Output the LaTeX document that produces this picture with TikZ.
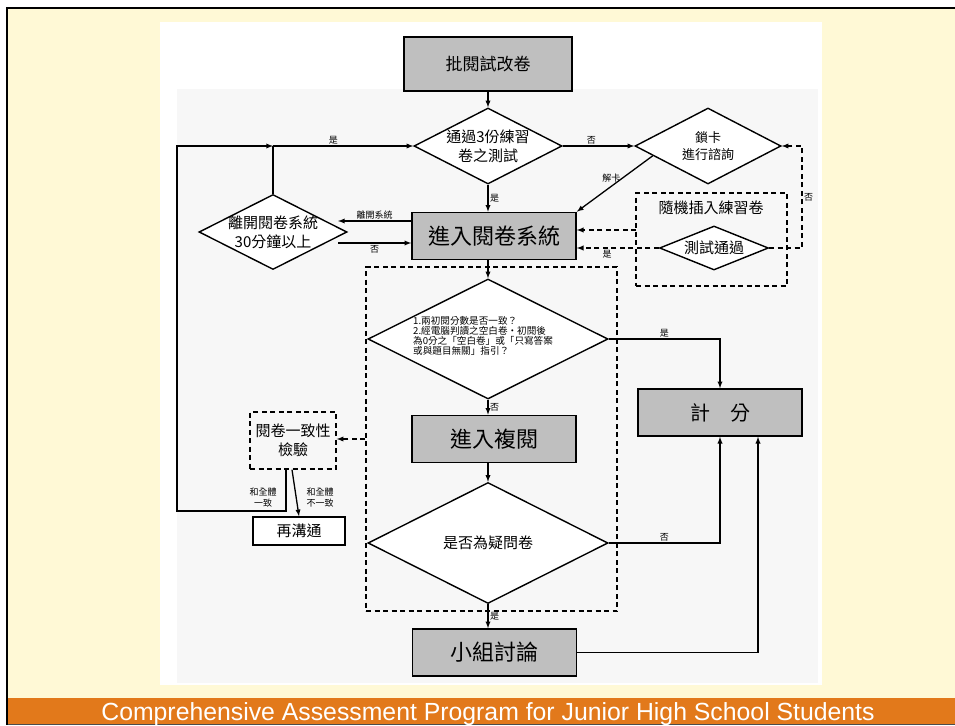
\documentclass[tikz,border=0pt]{standalone}
\usepackage{fontspec}
\setmainfont{Noto Sans CJK TC}
\newfontfamily\bannerfont{Liberation Sans}
\usetikzlibrary{shapes.geometric}
\definecolor{cream}{HTML}{FFF9D6}
\definecolor{bar}{HTML}{E2791B}
\definecolor{boxgray}{HTML}{BFBFBF}
\newcommand{\fsz}[2]{\fontsize{#1pt}{#2pt}\selectfont}

\begin{document}
\begin{tikzpicture}[x=1pt,y=-1pt,
    proc/.style={draw,line width=1.6pt,fill=boxgray,inner sep=0pt,minimum width=164pt,minimum height=47pt,font=\fsz{22}{26}},
    dec/.style={diamond,draw,line width=1.4pt,fill=white,inner sep=0pt},
    dbox/.style={draw,line width=1.4pt,dash pattern=on 5pt off 3.5pt,inner sep=0pt},
    flow/.style={line width=1.3pt,-latex},
    dflow/.style={flow,dash pattern=on 5pt off 3.5pt},
    tag/.style={font=\fsz{9}{11},inner sep=1.5pt,align=center},
    txt/.style={font=\fsz{15}{19},align=center,inner sep=0pt}]
  \useasboundingbox (0,0) rectangle (955,725);
  % slide
  \fill[white] (0,0) rectangle (955,725);
  \fill[cream] (7,8) rectangle (955,725);
  \fill[bar] (8,698) rectangle (955,724);
  \draw[line width=2pt] (955,8) -- (7,8) -- (7,725);
  \draw[line width=1pt,black!70] (8,724.5) -- (955,724.5);
  \node[font={\bannerfont\fsz{24.8}{26}},text=white,anchor=base,inner sep=0pt] (banner) at (488,720) {Comprehensive Assessment Program for Junior High School Students};
  \fill[white] (160,22) rectangle (822,685);
  \fill[black!3] (177,89) rectangle (818,683);
  %
  \node[proc,minimum width=168pt,minimum height=54pt,font=\fsz{17}{20}] (mark) at (488,64) {批閱試改卷};
  \node[dec,minimum width=148pt,minimum height=76pt] (pass3) at (488,146) {};
  \node[txt] (pass3txt) at (pass3) {通過3份練習\\卷之測試};
  \node[dec,minimum width=146pt,minimum height=76pt] (lock) at (708,146) {};
  \node[txt,font=\fsz{13}{17}] (locktxt) at (lock) {鎖卡\\進行諮詢};
  \node[proc] (sys) at (494,236) {進入閱卷系統};
  \node[dec,minimum width=148pt,minimum height=75pt] (leave) at (273,232) {};
  \node[txt] (leavetxt) at (leave) {離開閱卷系統\\30分鐘以上};
  \node[dbox,minimum width=151pt,minimum height=93pt] (rand) at (711.5,239.5) {};
  \node[txt] (randtxt) at (711,208) {隨機插入練習卷};
  \node[dec,minimum width=109pt,minimum height=44pt] (testok) at (714,248) {};
  \node[txt] (testoktxt) at (testok) {測試通過};
  %
  \node[dbox,minimum width=251pt,minimum height=344pt] (check) at (491.5,439) {};
  \node[dec,minimum width=240pt,minimum height=120pt] (dq) at (488,339) {};
  \node[txt,font=\fsz{9.6}{10.2},align=left,anchor=west] (dqtxt) at (413,336) {1.兩初閱分數是否一致？\\2.經電腦判讀之空白卷・初閱後\\為0分之「空白卷」或「只寫答案\\或與題目無關」指引？};
  \node[proc] (review) at (494,439) {進入複閱};
  \node[dec,minimum width=240pt,minimum height=121pt] (doubt) at (488,543) {};
  \node[txt] (doubttxt) at (doubt) {是否為疑問卷};
  \node[proc] (group) at (494.5,652.5) {小組討論};
  \node[proc,font=\fsz{20}{24}] (score) at (720,412.5) {計\quad 分};
  \node[dbox,minimum width=86pt,minimum height=57pt] (consist) at (293,440.5) {};
  \node[txt] (consisttxt) at (consist) {閱卷一致性\\檢驗};
  \node[draw,line width=1.5pt,fill=white,minimum width=92pt,minimum height=28pt,inner sep=0pt,font=\fsz{15}{18}] (again) at (299,531) {再溝通};
  %
  \draw[flow] (mark) -- (pass3);
  \draw[flow] (pass3) -- (lock) node[tag,pos=.4,above] {否};
  \draw[flow] (pass3.south) -- (pass3.south |- sys.north) node[tag,midway,right] {是};
  \draw[flow] (lock.190) -- (sys.north east) node[tag,pos=.4,left] {解卡};
  \coordinate (r1) at (636,230);
  \draw[dflow] (r1) -- (r1 -| sys.east);
  \draw[dflow] (testok.west) -- (testok.west -| sys.east) node[tag,pos=.63,below] {是};
  \coordinate (nofail) at (802,248);
  \draw[dflow] (testok.east) -- (nofail) |- node[tag,pos=.25,right] {否} (lock.east);
  %
  \coordinate (lv1) at (338,221);
  \coordinate (lv2) at (338,243);
  \draw[flow] (lv1 -| sys.west) -- (lv1) node[tag,midway,above] {離開系統};
  \draw[flow] (lv2) -- (lv2 -| sys.west) node[tag,midway,below] {否};
  \coordinate (join) at (leave.north |- pass3.west);
  \draw[line width=1.3pt] (leave.north) -- (join);
  \draw[flow] (join) -- (pass3.west) node[tag,pos=.43,above] {是};
  %
  \draw[flow] (sys.south -| dq.north) -- (dq.north);
  \draw[flow] (dq.east) -| (score.north) node[tag,pos=.25,above] {是};
  \draw[flow] (dq.south) -- (dq.south |- review.north) node[tag,midway,right] {否};
  \draw[flow] (review.south -| doubt.north) -- (doubt.north);
  \draw[flow] (doubt.east) -| (score.south) node[tag,pos=.25,above] {否};
  \draw[flow] (doubt.south) -- (doubt.south |- group.north) node[tag,midway,right] {是};
  \draw[flow] (group.east) -| ([xshift=38pt]score.south);
  %
  \draw[dflow] (check.west) -- (check.west -| consist.east);
  \coordinate (loopa) at (177,511);
  \draw[flow] ([xshift=-7pt]consist.south) |- (loopa) |- (join);
  \draw[flow] ([xshift=-1pt]consist.south) -- (again.north);
  \node[tag] (agree) at (263,498) {和全體\\一致};
  \node[tag] (disagree) at (320,498) {和全體\\不一致};
\end{tikzpicture}
\end{document}
